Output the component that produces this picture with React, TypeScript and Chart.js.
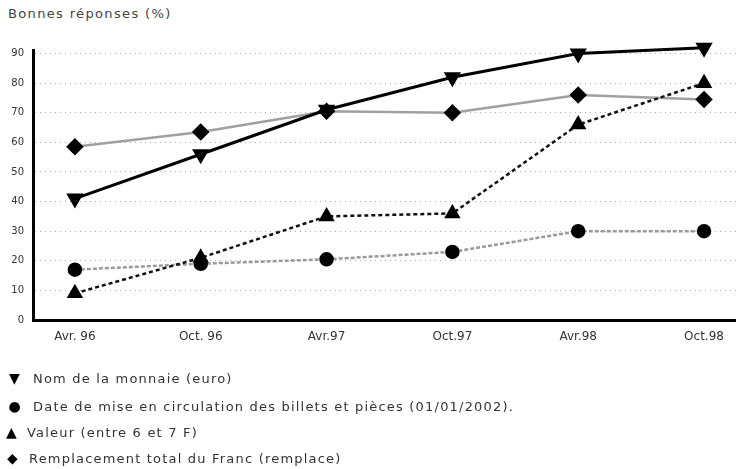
import React, { useEffect, useRef } from "react";
import { Chart, registerables } from "chart.js";

Chart.register(...registerables);

const periods = ["Avr. 96", "Oct. 96", "Avr.97", "Oct.97", "Avr.98", "Oct.98"];
const nomMonnaie = [41, 56, 71, 82, 90, 92];
const dateCirculation = [17, 19, 20.5, 23, 30, 30];
const valeur = [9, 21, 35, 36, 66, 80];
const remplacement = [58.5, 63.5, 70.5, 70, 76, 74.5];
const yTicks = [0, 10, 20, 30, 40, 50, 60, 70, 80, 90];
const legendLabels = [
  "Nom de la monnaie (euro)",
  "Date de mise en circulation des billets et pièces (01/01/2002).",
  "Valeur (entre 6 et 7 F)",
  "Remplacement total du Franc (remplace)",
];
const legendMarks = ["▼", "●", "▲", "◆"];

const FONT = "'DejaVu Sans', sans-serif";

export default function App() {
  const ref = useRef<HTMLCanvasElement | null>(null);

  useEffect(() => {
    if (!ref.current) return;
    const toPts = (arr: number[]) => arr.map((v, i) => ({ x: i, y: v }));
    const chart = new Chart(ref.current, {
      type: "line",
      data: {
        datasets: [
          {
            label: legendLabels[0],
            data: toPts(nomMonnaie),
            borderColor: "#000",
            borderWidth: 3,
            pointStyle: "triangle",
            rotation: 180,
            pointRadius: 7,
            pointBackgroundColor: "#000",
            pointBorderColor: "#000",
            clip: false as any,
            order: 1,
          },
          {
            label: legendLabels[1],
            data: toPts(dateCirculation),
            borderColor: "#9a9a9a",
            borderWidth: 2.5,
            borderDash: [4, 2],
            pointStyle: "circle",
            pointRadius: 6,
            pointBackgroundColor: "#000",
            pointBorderColor: "#000",
            clip: false as any,
            order: 4,
          },
          {
            label: legendLabels[2],
            data: toPts(valeur),
            borderColor: "#111",
            borderWidth: 2.5,
            borderDash: [4, 3],
            pointStyle: "triangle",
            pointRadius: 7,
            pointBackgroundColor: "#000",
            pointBorderColor: "#000",
            clip: false as any,
            order: 2,
          },
          {
            label: legendLabels[3],
            data: toPts(remplacement),
            borderColor: "#a0a0a0",
            borderWidth: 2.5,
            pointStyle: "rectRot",
            pointRadius: 7,
            pointBackgroundColor: "#000",
            pointBorderColor: "#000",
            clip: false as any,
            order: 3,
          },
        ],
      },
      options: {
        animation: false,
        responsive: false,
        maintainAspectRatio: false,
        layout: { autoPadding: false, padding: { top: 50, left: 0, right: 0, bottom: 124 } },
        plugins: { legend: { display: false }, tooltip: { enabled: false } },
        scales: {
          x: {
            type: "linear",
            min: -0.333,
            max: 5.254,
            afterBuildTicks: (s: any) => {
              s.ticks = periods.map((_, i) => ({ value: i }));
            },
            afterFit: (s: any) => {
              s.height = 25;
              s.paddingLeft = 0;
              s.paddingRight = 0;
            },
            ticks: {
              callback: (v: any) => periods[v] ?? "",
              font: { family: FONT, size: 12 },
              color: "#333",
              padding: 10,
              maxRotation: 0,
              autoSkip: false,
            },
            grid: { display: false, drawTicks: false },
            border: { display: true, color: "#000", width: 3 },
          },
          y: {
            type: "linear",
            min: 0,
            max: 91.2,
            afterBuildTicks: (s: any) => {
              s.ticks = yTicks.map((v) => ({ value: v }));
            },
            afterFit: (s: any) => {
              s.width = 33;
              s.paddingTop = 0;
              s.paddingBottom = 0;
            },
            ticks: {
              font: { family: FONT, size: 10 },
              color: "#333",
              padding: 9,
            },
            grid: {
              drawTicks: false,
              color: "#ababab",
              lineWidth: 1,
            },
            border: { display: true, color: "#000", width: 3, dash: [1, 4] as any },
          },
        },
      },
    });
    return () => chart.destroy();
  }, []);

  const legendTops = [370, 398, 424, 450];
  const legendTextLeft = [33, 33, 27, 29];

  return (
    <div
      style={{
        position: "fixed",
        left: 0,
        top: 0,
        width: 736,
        height: 469,
        background: "#fff",
        fontFamily: FONT,
        overflow: "hidden",
      }}
    >
      <div
        style={{
          position: "absolute",
          left: 8,
          top: 6,
          fontSize: 13,
          letterSpacing: 1.35,
          color: "#444",
          whiteSpace: "nowrap",
        }}
      >
        Bonnes réponses (%)
      </div>
      <canvas
        ref={ref}
        width={736}
        height={469}
        style={{ position: "absolute", left: 0, top: 0, width: 736, height: 469 }}
      />
      {legendLabels.map((t, i) => (
        <div
          key={i}
          style={{
            position: "absolute",
            left: 0,
            top: legendTops[i],
            fontSize: 13,
            letterSpacing: 1.2,
            color: "#333",
            whiteSpace: "nowrap",
            display: "flex",
            alignItems: "center",
          }}
        >
          <span
            style={{
              display: "inline-block",
              width: legendTextLeft[i],
              fontSize: 14,
              color: "#000",
              textAlign: "center",
              letterSpacing: 0,
              paddingRight: 4,
              boxSizing: "border-box",
            }}
          >
            {legendMarks[i]}
          </span>
          <span>{t}</span>
        </div>
      ))}
    </div>
  );
}
